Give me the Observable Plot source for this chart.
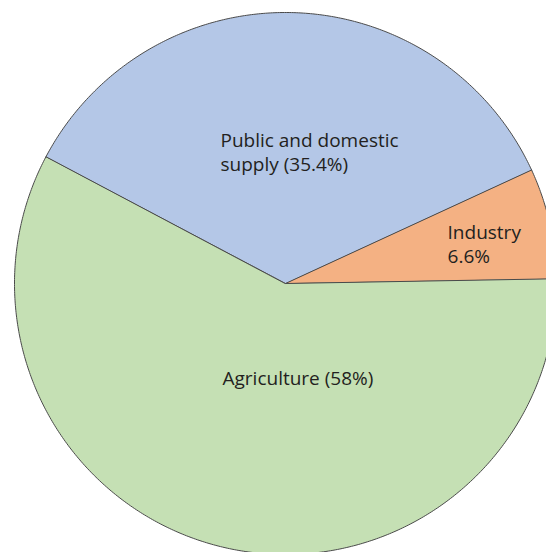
<!DOCTYPE html>
<html>
<head>
<meta charset="utf-8">
<script src="https://cdn.jsdelivr.net/npm/d3@7"></script>
<script src="https://cdn.jsdelivr.net/npm/@observablehq/plot@0.6"></script>
<style>
  html, body { margin: 0; padding: 0; background: #ffffff; }
  #chart svg { display: block; }
</style>
</head>
<body>
<div id="chart"></div>
<script>
// ---- data ----
const categories = ["Public and domestic supply", "Industry", "Agriculture"];
const shares = [35.4, 6.6, 58];
const labels = ["Public and domestic\nsupply (35.4%)", "Industry\n6.6%", "Agriculture (58%)"];
const colors = ["#b4c7e7", "#f4b183", "#c5e0b4"];

// ---- layout (unit-circle coordinates, y up) ----
const startDeg = -62.2;               // compass angle of first slice start
const labelPos = [[-0.24, 0.488], [0.598, 0.148], [-0.2325, -0.347]];

const rows = categories.map((c, i) => ({category: c, share: shares[i], label: labels[i]}));
const arcs = d3.pie().sort(null).value(d => d.share)
  .startAngle(startDeg * Math.PI / 180)
  .endAngle(startDeg * Math.PI / 180 + 2 * Math.PI)(rows);

function wedge(a0, a1) {
  const n = Math.max(8, Math.ceil((a1 - a0) / (Math.PI / 360)));
  const ring = [[0, 0]];
  for (let k = 0; k <= n; k++) {
    const a = a0 + (a1 - a0) * k / n;
    ring.push([Math.sin(a), Math.cos(a)]);
  }
  ring.push([0, 0]);
  return ring;
}

const features = arcs.map(a => ({
  type: "Feature",
  properties: {category: a.data.category},
  geometry: {type: "Polygon", coordinates: [wedge(a.startAngle, a.endAngle)]}
}));

const labelRows = rows.map((r, i) => ({...r, x: labelPos[i][0], y: labelPos[i][1]}));

const R = 271, CX = 285, CY = 283;
const projection = d3.geoIdentity().reflectY(true).scale(R).translate([CX, CY]);

const chart = Plot.plot({
  width: 546,
  height: 552,
  margin: 0,
  projection,
  color: {domain: categories, range: colors},
  style: {fontFamily: "'Open Sans', sans-serif", background: "#ffffff"},
  marks: [
    Plot.geo(features, {fill: d => d.properties.category, stroke: "#4a4a4a", strokeWidth: 1}),
    Plot.text(labelRows, {
      x: "x", y: "y", text: "label",
      textAnchor: "start", lineAnchor: "middle",
      fontSize: 19, lineHeight: 1.25, fill: "#231f20"
    })
  ]
});
document.getElementById("chart").appendChild(chart);
</script>
</body>
</html>
